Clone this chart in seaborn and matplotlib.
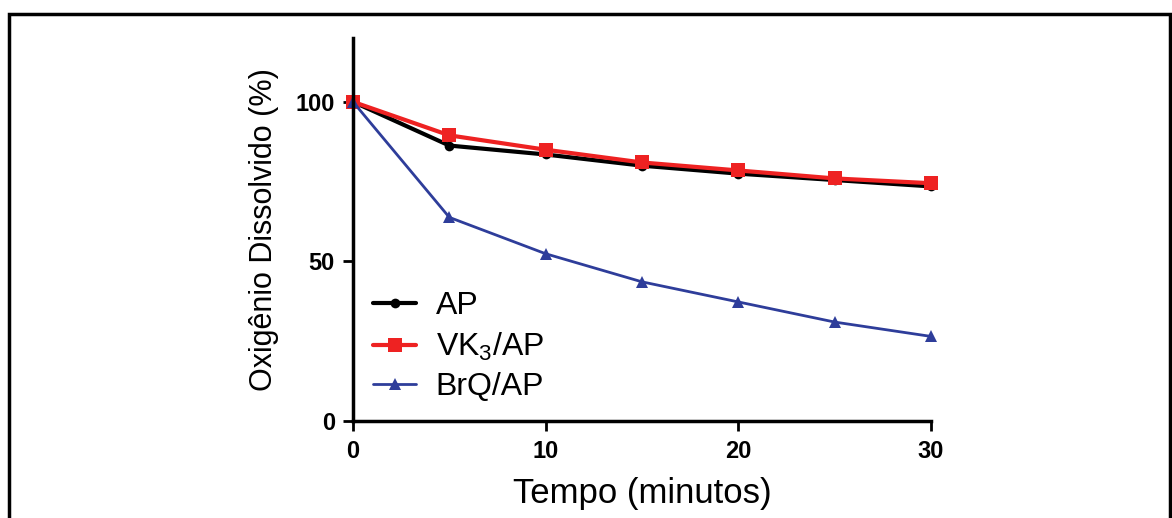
import matplotlib
matplotlib.use("Agg")
import matplotlib.pyplot as plt
import matplotlib.patches as mpatches
import seaborn as sns
import pandas as pd

tempo = [0, 5, 10, 15, 20, 25, 30]
ap = [100, 86.3, 83.5, 80.0, 77.5, 75.5, 73.5]
vk3_ap = [100, 89.5, 85.0, 81.0, 78.5, 76.0, 74.5]
brq_ap = [100, 63.8, 52.4, 43.6, 37.3, 31.0, 26.5]
series_names = ["AP", "VK$_3$/AP", "BrQ/AP"]
x_ticks = [0, 10, 20, 30]
y_ticks = [0, 50, 100]

sns.set_theme(style="ticks", rc={"text.color": "black", "axes.labelcolor": "black",
                                 "axes.edgecolor": "black", "xtick.color": "black",
                                 "ytick.color": "black"})
plt.rcParams['font.family'] = ['Liberation Sans', 'DejaVu Sans']
plt.rcParams['mathtext.fontset'] = 'custom'
plt.rcParams['mathtext.rm'] = 'Liberation Sans'
plt.rcParams['mathtext.default'] = 'regular'

df = pd.DataFrame({
    "Tempo": tempo * 3,
    "valor": ap + vk3_ap + brq_ap,
    "serie": [series_names[0]] * 7 + [series_names[1]] * 7 + [series_names[2]] * 7,
})

fig = plt.figure(figsize=(11.72, 5.18), dpi=100)
ax = fig.add_axes([353/1172, 1 - 421/518, (931-353)/1172, (421-38)/518])

colors = {series_names[0]: "#000000", series_names[1]: "#ee2222", series_names[2]: "#2e3d9a"}
markers = {series_names[0]: "o", series_names[1]: "s", series_names[2]: "^"}
msizes = {series_names[0]: 7, series_names[1]: 10, series_names[2]: 9}
lws = {series_names[0]: 3.0, series_names[1]: 3.0, series_names[2]: 2.0}

for name in series_names:
    sub = df[df["serie"] == name]
    sns.lineplot(data=sub, x="Tempo", y="valor", ax=ax, color=colors[name],
                 marker=markers[name], markersize=msizes[name], linewidth=lws[name],
                 markeredgewidth=0, label=name)

for s in ["top", "right"]:
    ax.spines[s].set_visible(False)
ax.spines["left"].set_linewidth(2.5)
ax.spines["bottom"].set_linewidth(2.5)

ax.set_xlim(0, 30)
ax.set_ylim(0, 120)
ax.set_xticks(x_ticks)
ax.set_yticks(y_ticks)
ax.set_xticklabels([str(t) for t in x_ticks], fontsize=17, fontweight="bold")
ax.set_yticklabels([str(t) for t in y_ticks], fontsize=17, fontweight="bold")
ax.set_xlabel("Tempo (minutos)", fontsize=25)
ax.set_ylabel("Oxigênio Dissolvido (%)", fontsize=22)
ax.xaxis.labelpad = 10
ax.yaxis.labelpad = 12
for line in ax.lines:
    line.set_clip_on(False)
ax.tick_params(axis="both", width=2.0, length=7, color="black", labelcolor="black")
ax.tick_params(axis="x", pad=7)
ax.tick_params(axis="y", pad=6)

leg = ax.legend(loc="lower left", bbox_to_anchor=(0.013, 0.015), frameon=False, fontsize=23,
                handlelength=1.35, handletextpad=0.6, labelspacing=0.3, borderaxespad=0)
for t in leg.get_texts():
    t.set_color("black")

rect = mpatches.Rectangle((9/1172, -0.1), (1170-9)/1172, 1.1 - 14/518, transform=fig.transFigure,
                          fill=False, edgecolor="black", linewidth=2.5, clip_on=False)
fig.patches.append(rect)

fig.savefig("out.png", dpi=100)
